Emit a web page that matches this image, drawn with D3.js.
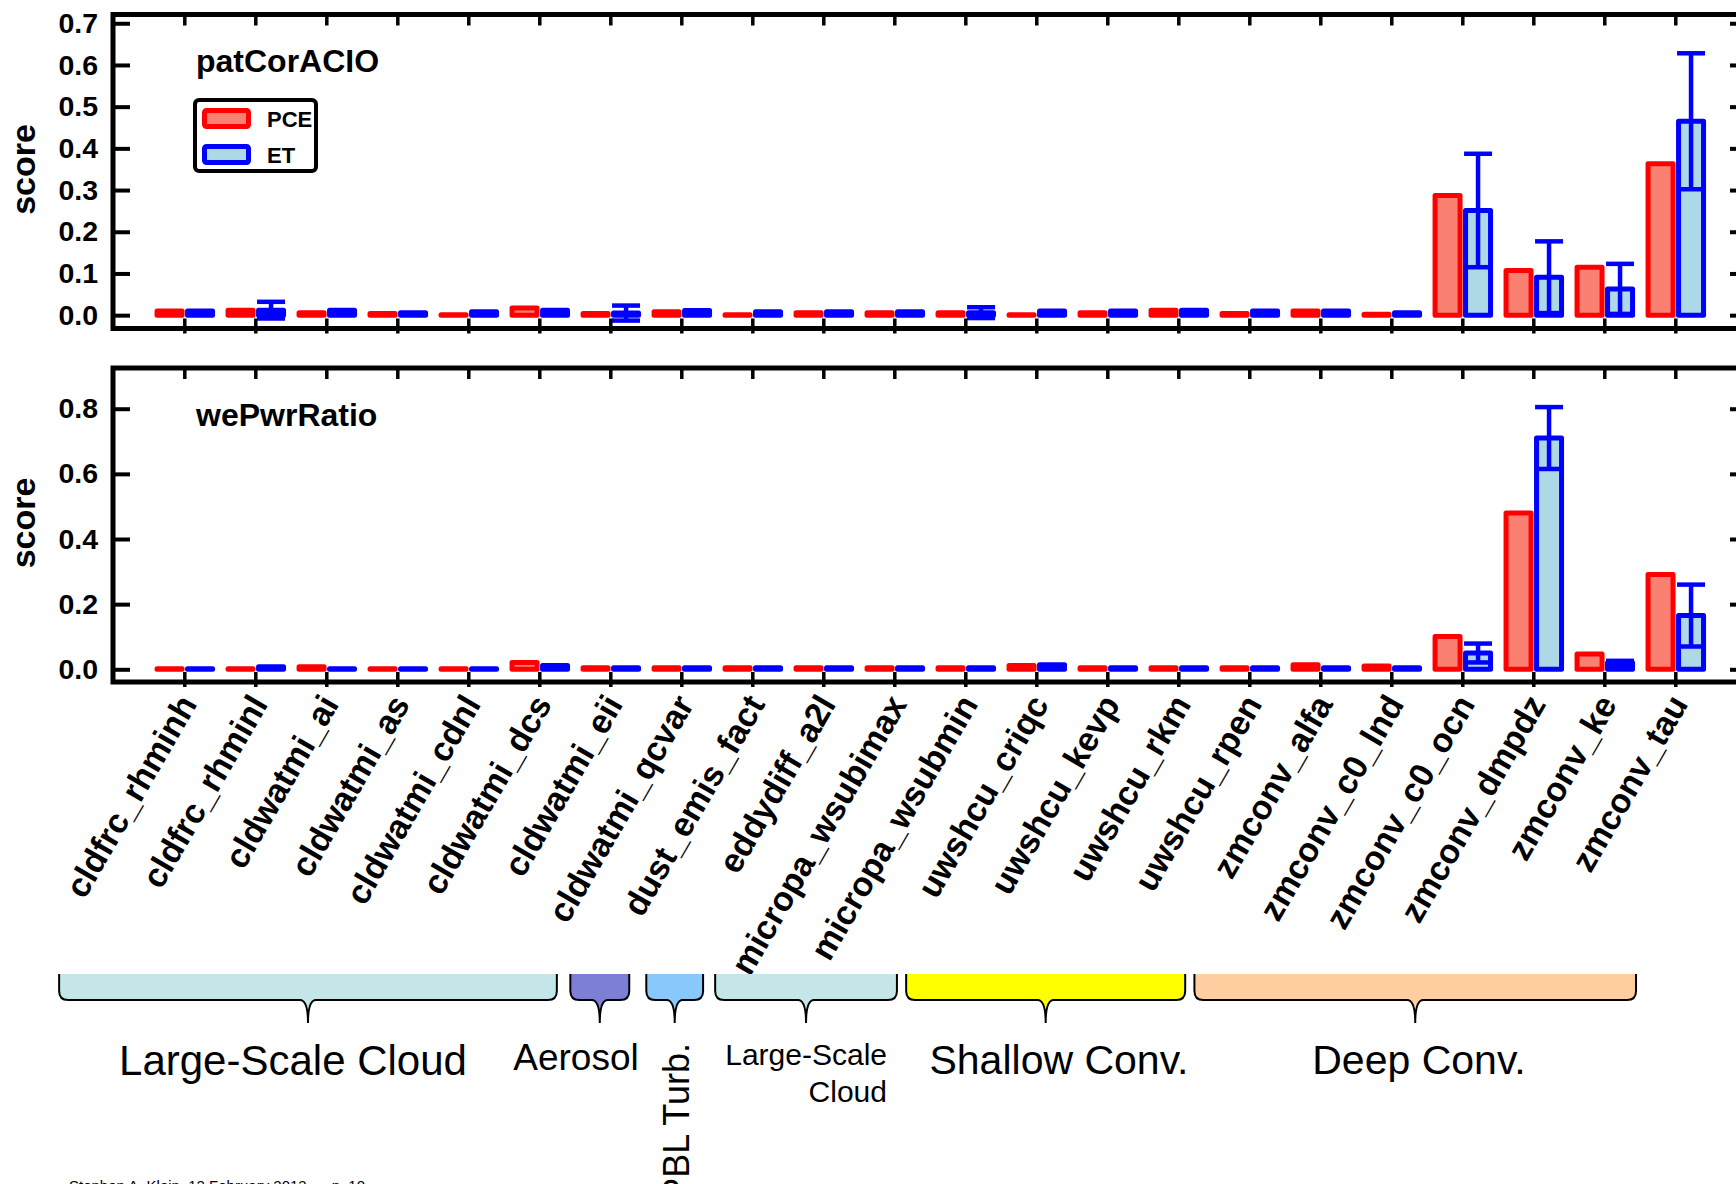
<!DOCTYPE html>
<html>
<head>
<meta charset="utf-8">
<script src="https://cdn.jsdelivr.net/npm/d3@7"></script>
<style>
  html, body { margin: 0; padding: 0; background: #fff; overflow: hidden; }
  svg { display: block; }
</style>
</head>
<body>
<svg id="chart" width="1736" height="1184"></svg>
<script>
// ---- data ----
const categories = [
  "cldfrc_rhminh", "cldfrc_rhminl", "cldwatmi_ai", "cldwatmi_as", "cldwatmi_cdnl",
  "cldwatmi_dcs", "cldwatmi_eii", "cldwatmi_qcvar", "dust_emis_fact", "eddydiff_a2l",
  "micropa_wsubimax", "micropa_wsubmin", "uwshcu_criqc", "uwshcu_kevp", "uwshcu_rkm",
  "uwshcu_rpen", "zmconv_alfa", "zmconv_c0_lnd", "zmconv_c0_ocn", "zmconv_dmpdz",
  "zmconv_ke", "zmconv_tau"
];
const seriesNames = ["PCE", "ET"];

// patCorACIO scores
const patPCE   = [0.010, 0.012, 0.006, 0.004, 0.001, 0.017, 0.004, 0.008, 0.001, 0.006, 0.006,
                  0.006, 0.001, 0.006, 0.012, 0.004, 0.010, 0.002, 0.287, 0.107, 0.115, 0.363];
const patET    = [0.010, 0.012, 0.012, 0.006, 0.008, 0.012, 0.005, 0.011, 0.008, 0.008, 0.008,
                  0.006, 0.010, 0.010, 0.012, 0.010, 0.010, 0.006, 0.251, 0.091, 0.063, 0.465];
const patETerr = [0, 0.020, 0, 0, 0, 0, 0.018, 0, 0, 0, 0,
                  0.013, 0, 0, 0, 0, 0, 0, 0.136, 0.086, 0.060, 0.163];

// wePwrRatio scores
const wePCE    = [0.002, 0.002, 0.008, 0.002, 0.002, 0.021, 0.005, 0.005, 0.005, 0.005, 0.005,
                  0.005, 0.012, 0.005, 0.005, 0.005, 0.014, 0.010, 0.101, 0.480, 0.047, 0.291];
const weET     = [0.002, 0.008, 0.002, 0.002, 0.002, 0.012, 0.005, 0.005, 0.005, 0.005, 0.005,
                  0.005, 0.014, 0.005, 0.005, 0.005, 0.005, 0.005, 0.050, 0.710, 0.020, 0.165];
const weETerr  = [0, 0, 0, 0, 0, 0, 0, 0, 0, 0, 0,
                  0, 0, 0, 0, 0, 0, 0, 0.029, 0.095, 0.006, 0.095];

const patTicks = [0.0, 0.1, 0.2, 0.3, 0.4, 0.5, 0.6, 0.7];
const weTicks  = [0.0, 0.2, 0.4, 0.6, 0.8];

// parameter groups: name, colour, span in category-index units
const groupNames  = ["Large-Scale Cloud", "Aerosol", "PBL Turb.", "Large-Scale Cloud", "Shallow Conv.", "Deep Conv."];
const groupColors = ["#c5e6e8", "#7d7fd6", "#88c8fa", "#c5e6e8", "#ffff00", "#ffcea0"];
const groupSpans  = [[-1.77, 5.24], [5.43, 6.26], [6.50, 7.30], [7.47, 10.03], [10.16, 14.09], [14.22, 20.44]];

// ---- layout ----
const svg = d3.select("#chart");
const FONT = "'Liberation Sans', Arial, Helvetica, sans-serif";
const plotLeft = 113, plotRight = 1747;
const SW = 5;

const x = d3.scaleBand().domain(categories).range([149.3, 1711.3]);
const bw = x.bandwidth();
const sub = d3.scaleBand().domain(seriesNames).range([bw / 2 - 30.5, bw / 2 + 30.5]);
const xi = d3.scaleLinear().domain([0, categories.length - 1])
  .range([x(categories[0]) + bw / 2, x(categories[categories.length - 1]) + bw / 2]);

const colors = {
  PCE: { fill: "#fa8072", stroke: "#ff0000" },
  ET:  { fill: "#add8e6", stroke: "#0000ff" }
};

const panels = [
  { title: "patCorACIO", pce: patPCE, et: patET, err: patETerr, domain: [-0.032, 0.721],
    ticks: patTicks, top: 14.5, bottom: 328.5, legend: true },
  { title: "wePwrRatio", pce: wePCE, et: weET, err: weETerr, domain: [-0.039, 0.925],
    ticks: weTicks, top: 368, bottom: 682, legend: false }
];

panels.forEach(p => {
  const y = d3.scaleLinear().domain(p.domain).range([p.bottom, p.top]);
  const g = svg.append("g");

  // bars
  seriesNames.forEach(s => {
    const vals = s === "PCE" ? p.pce : p.et;
    g.append("g").selectAll("path").data(categories).join("path")
      .attr("d", (c, i) => {
        const x0 = x(c) + sub(s) + SW / 2 + 0.25;
        const w = sub.bandwidth() - SW - 0.5;
        const y0 = y(0), y1 = y(vals[i]);
        return `M${x0},${y0}V${y1}H${x0 + w}V${y0}Z`;
      })
      .attr("fill", colors[s].fill)
      .attr("stroke", colors[s].stroke)
      .attr("stroke-width", SW)
      .attr("stroke-linejoin", "round");
  });

  // error bars on ET
  const eg = g.append("g").attr("stroke", "#0000ff").attr("stroke-width", 4.5).attr("fill", "none");
  categories.forEach((c, i) => {
    const e = p.err[i];
    if (!e) return;
    const cx = x(c) + sub("ET") + sub.bandwidth() / 2;
    const yl = y(p.et[i] - e), yh = y(p.et[i] + e);
    eg.append("line").attr("x1", cx).attr("x2", cx).attr("y1", yl).attr("y2", yh);
    eg.append("line").attr("x1", cx - 14).attr("x2", cx + 14).attr("y1", yh).attr("y2", yh);
    eg.append("line").attr("x1", cx - 14).attr("x2", cx + 14).attr("y1", yl).attr("y2", yl);
  });

  // axes
  const left = g.append("g").attr("transform", `translate(${plotLeft},0)`)
    .call(d3.axisLeft(y).tickValues(p.ticks).tickSize(-17).tickPadding(15).tickFormat(d3.format(".1f")));
  const right = g.append("g").attr("transform", `translate(${plotRight},0)`)
    .call(d3.axisRight(y).tickValues(p.ticks).tickSize(-17).tickFormat(""));
  const topAx = g.append("g").attr("transform", `translate(0,${p.top})`)
    .call(d3.axisTop(x).tickSize(-11).tickFormat(""));
  const botAx = g.append("g").attr("transform", `translate(0,${p.bottom})`)
    .call(d3.axisBottom(x).tickSize(5).tickFormat(""));
  botAx.selectAll(".tick line").attr("y1", -10);

  [left, right, topAx, botAx].forEach(a => {
    a.select(".domain").remove();
    a.selectAll(".tick line").attr("stroke", "#000").attr("stroke-width", 3.5);
  });
  left.selectAll(".tick line").attr("stroke-width", 4);
  right.selectAll(".tick line").attr("stroke-width", 4);
  left.selectAll(".tick text")
    .attr("fill", "#000")
    .style("font-family", FONT).style("font-weight", "bold").style("font-size", "28.5px");

  // frame
  g.append("rect")
    .attr("x", plotLeft).attr("y", p.top)
    .attr("width", plotRight - plotLeft).attr("height", p.bottom - p.top)
    .attr("fill", "none").attr("stroke", "#000").attr("stroke-width", SW);

  // panel title
  g.append("text").text(p.title)
    .attr("x", 196).attr("y", p.top + 57.5)
    .style("font-family", FONT).style("font-weight", "bold").style("font-size", "32px");

  // y label
  g.append("text").text("score")
    .attr("transform", `translate(35,${(p.top + p.bottom) / 2 - 2}) rotate(-90)`)
    .attr("text-anchor", "middle")
    .style("font-family", FONT).style("font-weight", "bold").style("font-size", "34px");

  // legend
  if (p.legend) {
    const lg = g.append("g");
    lg.append("rect").attr("x", 195).attr("y", 100).attr("width", 121).attr("height", 71)
      .attr("rx", 4).attr("fill", "#fff").attr("stroke", "#000").attr("stroke-width", 4);
    seriesNames.forEach((s, k) => {
      const yy = 110.5 + k * 36;
      lg.append("rect").attr("x", 204.5).attr("y", yy).attr("width", 44).attr("height", 16)
        .attr("rx", 2).attr("fill", colors[s].fill).attr("stroke", colors[s].stroke).attr("stroke-width", SW);
      lg.append("text").text(s).attr("x", 267).attr("y", yy + 16.5)
        .style("font-family", FONT).style("font-weight", "bold").style("font-size", "22px");
    });
  }
});

// category labels below the lower panel
svg.append("g").selectAll("text").data(categories).join("text")
  .text(d => d)
  .attr("text-anchor", "end")
  .attr("transform", d => `translate(${x(d) + bw / 2 + 13},${704}) rotate(-60)`)
  .style("font-family", FONT).style("font-weight", "bold").style("font-size", "34px");

// group brackets
const bTop = 974, bBot = 1000, bTip = 1023, r = 9, cw = 8;
const bg = svg.append("g");
groupSpans.forEach((span, k) => {
  const x0 = xi(span[0]), x1 = xi(span[1]), xc = (x0 + x1) / 2;
  const outline = `M${x0},${bTop}V${bBot - r}Q${x0},${bBot} ${x0 + r},${bBot}H${xc - cw}` +
    `Q${xc},${bBot} ${xc},${bTip}Q${xc},${bBot} ${xc + cw},${bBot}H${x1 - r}` +
    `Q${x1},${bBot} ${x1},${bBot - r}V${bTop}`;
  bg.append("path").attr("d", outline + "Z").attr("fill", groupColors[k]).attr("stroke", "none");
  bg.append("path").attr("d", outline).attr("fill", "none").attr("stroke", "#000").attr("stroke-width", 2);
});

// group labels
const gl = svg.append("g").style("font-family", FONT).attr("fill", "#000");
gl.append("text").text(groupNames[0]).attr("x", 293).attr("y", 1075)
  .attr("text-anchor", "middle").style("font-size", "42px");
gl.append("text").text(groupNames[1]).attr("x", 576).attr("y", 1070)
  .attr("text-anchor", "middle").style("font-size", "37px");
gl.append("text").text(groupNames[2])
  .attr("transform", "translate(689,1043) rotate(-90)")
  .attr("text-anchor", "end").style("font-size", "36px");
const ls2 = gl.append("text").attr("text-anchor", "end").style("font-size", "30px");
ls2.append("tspan").text("Large-Scale").attr("x", 887).attr("y", 1065);
ls2.append("tspan").text("Cloud").attr("x", 887).attr("y", 1102);
gl.append("text").text(groupNames[4]).attr("x", 1059).attr("y", 1074)
  .attr("text-anchor", "middle").style("font-size", "41px");
gl.append("text").text(groupNames[5]).attr("x", 1419).attr("y", 1074)
  .attr("text-anchor", "middle").style("font-size", "41px");

// footer line
svg.append("text").text("Stephen A. Klein, 12 February 2013      p. 10")
  .attr("x", 69).attr("y", 1191)
  .style("white-space", "pre")
  .style("font-family", FONT).style("font-size", "15px");
</script>
</body>
</html>
